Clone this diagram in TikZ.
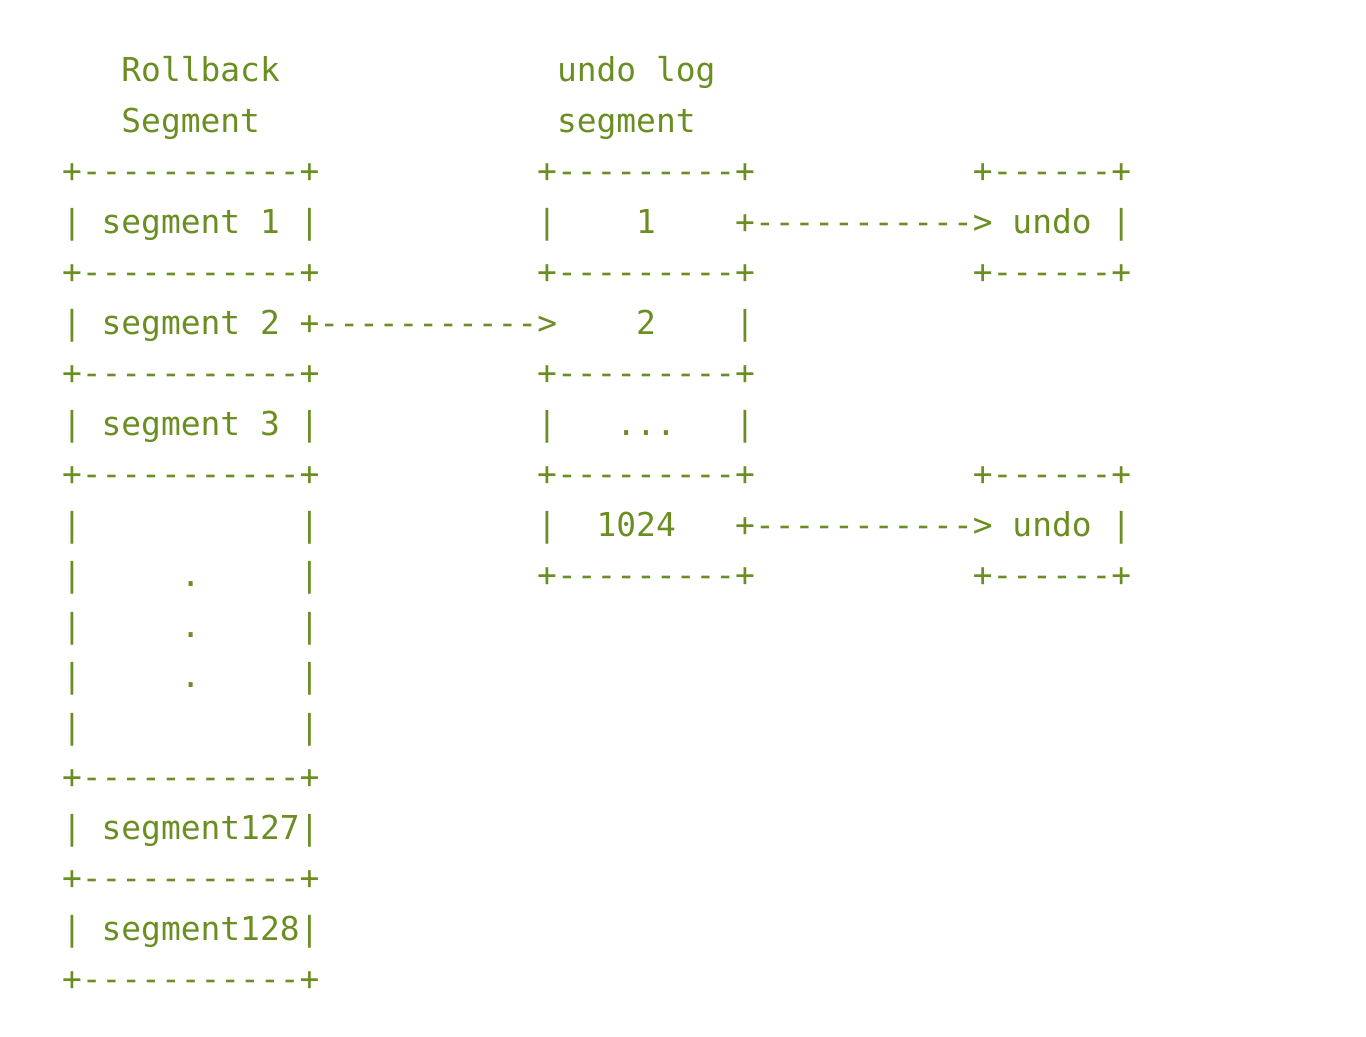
\documentclass[tikz,border=0pt]{standalone}
\usepackage{fontspec}
\setmonofont{DejaVu Sans Mono}
\usepackage{xcolor}
\usepackage{tikz}
\definecolor{asciigreen}{HTML}{6B8E23}
\tikzset{
  ascii/.style={font=\ttfamily\fontsize{9.36}{11}\selectfont, text=asciigreen,
                anchor=mid west, inner sep=0pt, outer sep=0pt},
}

\begin{document}
\begin{tikzpicture}
  \useasboundingbox (0,0) rectangle (13.66,-10.36);
  \begin{scope}[shift={(0.62,-0.74)}, x=0.198cm, y=-0.505cm]
  % titles
  \node[ascii] (rbtitle) at (3,0) {Rollback};
  \node[ascii] (rbtitle2) at (3,1) {Segment};
  \node[ascii] (ultitle) at (25,0) {undo log};
  \node[ascii] (ultitle2) at (25,1) {segment};

  % rollback segment column
  \foreach \r in {2,4,6,8,14,16,18}
    \node[ascii] (rbrule\r) at (0,\r) {+-----------+};
  \node[ascii] (seg1) at (0,3) {| segment 1 |};
  \node[ascii] (seg2) at (0,5) {| segment 2 +----------->};
  \node[ascii] (seg3) at (0,7) {| segment 3 |};
  \foreach \r in {9,...,13} {
    \node[ascii] (rbl\r) at (0,\r) {|};
    \node[ascii] (rbr\r) at (12,\r) {|};
  }
  \foreach \r in {10,11,12}
    \node[ascii] (dot\r) at (6,\r) {.};
  \node[ascii] (seg127) at (0,15) {| segment127|};
  \node[ascii] (seg128) at (0,17) {| segment128|};

  % undo log segment column
  \foreach \r in {2,4,6,8,10}
    \node[ascii] (ulrule\r) at (24,\r) {+---------+};
  \foreach \r in {3,7,9} \node[ascii] (ull\r) at (24,\r) {|};
  \foreach \r in {5,7} \node[ascii] (ulr\r) at (34,\r) {|};
  \node[ascii] (slot1) at (29,3) {1};
  \node[ascii] (slot2) at (29,5) {2};
  \node[ascii] (slotdots) at (28,7) {...};
  \node[ascii] (slot1024) at (27,9) {1024};
  \node[ascii] (link1) at (34,3) {+-----------> undo |};
  \node[ascii] (link1024) at (34,9) {+-----------> undo |};

  % undo records
  \foreach \r in {2,4,8,10}
    \node[ascii] (undorule\r) at (46,\r) {+------+};
  \end{scope}
\end{tikzpicture}
\end{document}
